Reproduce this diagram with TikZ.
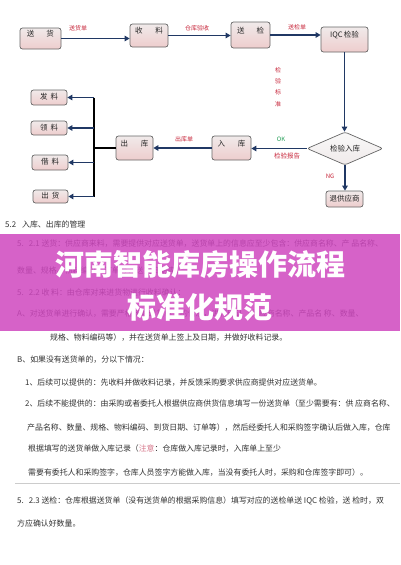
\documentclass[tikz,border=0pt]{standalone}
\usepackage{fontspec}
\setmainfont{Noto Sans CJK SC}
\usetikzlibrary{shapes.geometric,arrows.meta}
\definecolor{navy}{RGB}{32,56,100}
\definecolor{lblred}{RGB}{200,40,60}
\definecolor{okgreen}{RGB}{40,160,90}
\definecolor{band}{RGB}{207,71,191}
\definecolor{boxtop}{RGB}{240,234,234}
\definecolor{boxbot}{RGB}{238,205,205}
\definecolor{note}{RGB}{215,120,140}
\begin{document}
\begin{tikzpicture}[x=1pt,y=-1pt,
  box/.style={draw=black!60, line width=0.7pt, rounded corners=2.5pt,
    top color=boxtop, bottom color=boxbot, inner sep=0pt,
    font=\fontsize{7.5}{8}\selectfont, text=black!85},
  bigbox/.style={box, text height=6pt, text depth=10pt},
  smallbox/.style={box, text height=6pt, text depth=1.5pt},
  arr/.style={draw=navy, line width=1.6pt, -{Triangle[length=5pt,width=5.5pt]}},
  bus/.style={draw=black, line width=1.8pt},
  lbl/.style={text=lblred, font=\fontsize{6}{7}\selectfont, inner sep=0pt},
  body/.style={anchor=base west, inner sep=0pt, text=black!80,
    font=\fontsize{7.9}{9}\selectfont},
  title/.style={text=white, font=\fontsize{29}{30}\selectfont\bfseries, inner sep=0pt}
]
\useasboundingbox (0,0) rectangle (400,565);
\fill[white] (0,0) rectangle (400,565);

% ---------- flowchart ----------
\node[bigbox, minimum width=41pt, minimum height=21pt] (songhuo) at (40.5,38.5) {送\hspace{12pt}货};
\node[bigbox, minimum width=38pt, minimum height=23pt] (shouliao) at (149,35.5) {收\hspace{13pt}料};
\node[bigbox, minimum width=39pt, minimum height=26pt] (songjian) at (250.5,35) {送\hspace{12pt}检};
\node[bigbox, minimum width=47pt, minimum height=25pt] (iqc) at (344.5,39.5) {IQC\,检验\hspace{6pt}};
\node[box, diamond, aspect=2.3, minimum width=76pt, minimum height=33pt,
  top color=white!95!gray, bottom color=boxtop] (dia) at (345,148.5) {检验入库};
\node[bigbox, minimum width=39pt, minimum height=24pt] (ruku) at (231.5,148) {入\hspace{13pt}库};
\node[bigbox, minimum width=37pt, minimum height=24pt] (chuku) at (134.5,148) {出\hspace{13pt}库};
\node[smallbox, minimum width=37pt, minimum height=16pt] (tui) at (344.5,199) {退供应商};
\node[smallbox, minimum width=36pt, minimum height=15pt] (fa) at (49,97.5) {发\hspace{3pt}料};
\node[smallbox, minimum width=36pt, minimum height=14pt] (ling) at (49,128) {领\hspace{3pt}料};
\node[smallbox, minimum width=36pt, minimum height=15pt] (jie) at (50,162.5) {借\hspace{3pt}料};
\node[smallbox, minimum width=35pt, minimum height=13pt] (chuhuo) at (50.5,196.5) {出\hspace{3pt}货};

\draw[arr] (songhuo.east) -- (shouliao.west |- songhuo.east);
\draw[arr] (shouliao.east) -- (songjian.west |- shouliao.east);
\draw[arr] (songjian.east) -- (iqc.west |- songjian.east);
\draw[arr] (iqc.south) -- (iqc.south |- dia.north);
\draw[arr] (dia.west) -- (ruku.east |- dia.west);
\draw[arr] (dia.south) -- (dia.south |- tui.north);
\draw[arr] (ruku.west) -- (chuku.east |- ruku.west);

\coordinate (bt) at (94,97.5);
\coordinate (bb) at (94,196.5);
\draw[bus] (chuku.west) -- (chuku.west -| bt);
\draw[bus] (bt) -- (bb);
\draw[arr] (bt) -- (fa.east);
\draw[arr] (bt |- ling.east) -- (ling.east);
\draw[arr] (bt |- jie.east) -- (jie.east);
\draw[arr] (bb) -- (chuhuo.east);

\node[lbl] (l1) at (78,28.5) {送货单};
\node[lbl] (l2) at (197,28) {仓库验收};
\node[lbl] (l3) at (297,27.5) {送检单};
\node[lbl, align=center, font=\fontsize{6}{11.3}\selectfont] (l4) at (278,87) {检\\验\\标\\准};
\node[lbl, text=okgreen] (l5) at (281,139) {OK};
\node[lbl, font=\fontsize{6.5}{7}\selectfont] (l6) at (287,156) {检验报告};
\node[lbl] (l7) at (330,176) {NG};
\node[lbl] (l8) at (184,139.5) {出库单};

% ---------- text ----------
\node[body] (t0) at (5,227) {5.2\hspace{6pt}入库、出库的管理};
\node[body] (t1) at (17,246) {5.\hspace{5pt}2.1 送货：供应商来料，需要提供对应送货单，送货单上的信息应至少包含：供应商名称、产 品名称、};
\node[body] (t2) at (17,273) {数量、规格、物料编码、订单号、送货日期等。};
\node[body] (t3) at (17,295) {5.\hspace{5pt}2.2 收 料：由仓库对来进货物进行收料确认：};
\node[body] (t4) at (17,316) {A、对送货单进行确认，需要严格核对送货单上的信息，进行确认（供应商名称、产品名 称、数量、};

\fill[band, opacity=0.85] (0,234) rectangle (400,331);
\node[title] (title1) at (200,265) {河南智能库房操作流程};
\node[title] (title2) at (200,307) {标准化规范};

\node[body] (t5) at (50,340) {规格、物料编码等），并在送货单上签上及日期，并做好收料记录。};
\node[body] (t6) at (17,362) {B、如果没有送货单的，分以下情况：};
\node[body] (t7) at (25,385) {1、后续可以提供的：先收料并做收料记录，并反馈采购要求供应商提供对应送货单。};
\node[body] (t8) at (25,406) {2、后续不能提供的：由采购或者委托人根据供应商供货信息填写一份送货单（至少需要有：供 应商名称、};
\node[body] (t9) at (27,430) {产品名称、数量、规格、物料编码、到货日期、订单等），然后经委托人和采购签字确认后做入库，仓库};
\node[body] (t10) at (28,451) {根据填写的送货单做入库记录（{\color{note}注意}：仓库做入库记录时，入库单上至少};
\node[body] (t11) at (28,475) {需要有委托人和采购签字，仓库人员签字方能做入库，当没有委托人时，采购和仓库签字即可）。};
\draw[black!20, line width=0.6pt] (15,483.5) -- (400,483.5);
\node[body] (t12) at (17,503) {5.\hspace{5pt}2.3 送检：仓库根据送货单（没有送货单的根据采购信息）填写对应的送检单送 IQC 检验，送 检时，双};
\node[body] (t13) at (17,526) {方应确认好数量。};
\end{tikzpicture}
\end{document}
